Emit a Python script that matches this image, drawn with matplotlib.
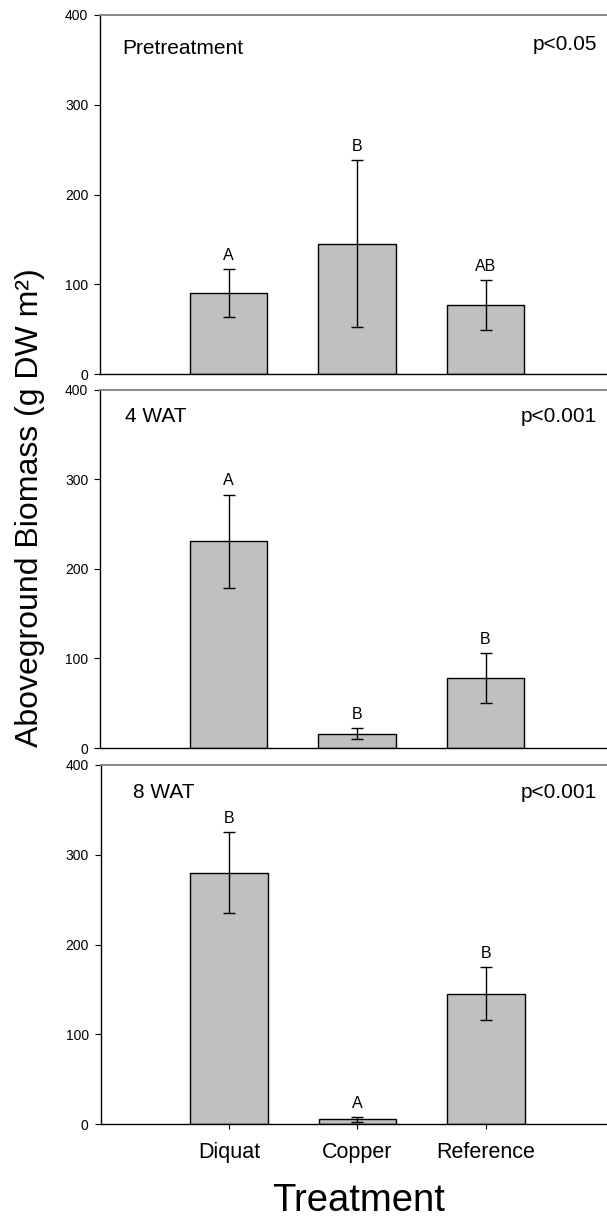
import matplotlib
matplotlib.use("Agg")
import matplotlib.pyplot as plt

plt.rcParams["font.family"] = ["Liberation Sans", "DejaVu Sans"]

# ---------------------------------------------------------------------------
# Data (g DW m^-2, mean +/- error)
# ---------------------------------------------------------------------------
treatments = ["Diquat", "Copper", "Reference"]

pre_means = [90, 145, 77]
pre_err = [27, 93, 28]
pre_letters = ["A", "B", "AB"]

wat4_means = [231, 16, 78]
wat4_err = [52, 6, 28]
wat4_letters = ["A", "B", "B"]

wat8_means = [280, 5.5, 145]
wat8_err = [45, 2.7, 29.5]
wat8_letters = ["B", "A", "B"]

panel_titles = ["Pretreatment", "4 WAT", "8 WAT"]
p_values = ["p<0.05", "p<0.001", "p<0.001"]
y_ticks = [0, 100, 200, 300, 400]

BAR_FILL = "#C0C0C0"
TOP_LINE = "#808080"

W, H = 607, 1218
fig = plt.figure(figsize=(W / 100, H / 100), dpi=100)

# axes boxes in pixels: (left, top, bottom), right runs past the figure edge
boxes = [(100, 15, 374), (100, 389.7, 748), (100.5, 764.7, 1124.3)]
title_xy = [(122, 49), (125, 416), (133, 792)]
pval_xy = [(597, 45), (597, 416), (597, 792)]

panels = [
    (pre_means, pre_err, pre_letters),
    (wat4_means, wat4_err, wat4_letters),
    (wat8_means, wat8_err, wat8_letters),
]

x = [1, 2, 3]
for i, ((means, errs, letters), (left, top, bottom)) in enumerate(zip(panels, boxes)):
    ax = fig.add_axes([left / W, (H - bottom) / H, 514 / W, (bottom - top) / H])
    ax.bar(x, means, width=0.6, color=BAR_FILL, edgecolor="black", linewidth=1.0, zorder=2)
    ax.errorbar(x, means, yerr=errs, fmt="none", ecolor="black", elinewidth=1.0,
                capsize=4, capthick=1.0, zorder=3)
    for xi, m, e, lab in zip(x, means, errs, letters):
        ax.annotate(lab, xy=(xi, m + e), xytext=(0, 4.5), textcoords="offset points",
                    ha="center", va="bottom", fontsize=11.5)

    ax.set_xlim(0, 4)
    ax.set_ylim(0, 400)
    ax.set_yticks(y_ticks)
    ax.tick_params(axis="y", direction="out", length=4.5, width=0.8, labelsize=10, pad=4)

    ax.spines["right"].set_visible(False)
    ax.spines["top"].set_color(TOP_LINE)
    ax.spines["top"].set_linewidth(1.3)
    ax.spines["left"].set_linewidth(1.0)
    ax.spines["bottom"].set_linewidth(1.0)

    if i == 2:
        ax.set_xticks(x)
        ax.set_xticklabels(treatments, fontsize=15.5)
        ax.tick_params(axis="x", direction="out", length=3.5, width=0.8, pad=9)
    else:
        ax.set_xticks([])

    tx, ty = title_xy[i]
    fig.text(tx / W, 1 - ty / H, panel_titles[i], fontsize=15, ha="left", va="center")
    px, py = pval_xy[i]
    fig.text(px / W, 1 - py / H, p_values[i], fontsize=15, ha="right", va="center")

fig.text(30 / W, 1 - 508 / H, "Aboveground Biomass (g DW m²)", rotation=90,
         fontsize=23, ha="center", va="center")
fig.text(359 / W, 1 - 1211 / H, "Treatment", fontsize=27.5, ha="center", va="baseline")

fig.savefig("out.png", dpi=100, facecolor="white")
